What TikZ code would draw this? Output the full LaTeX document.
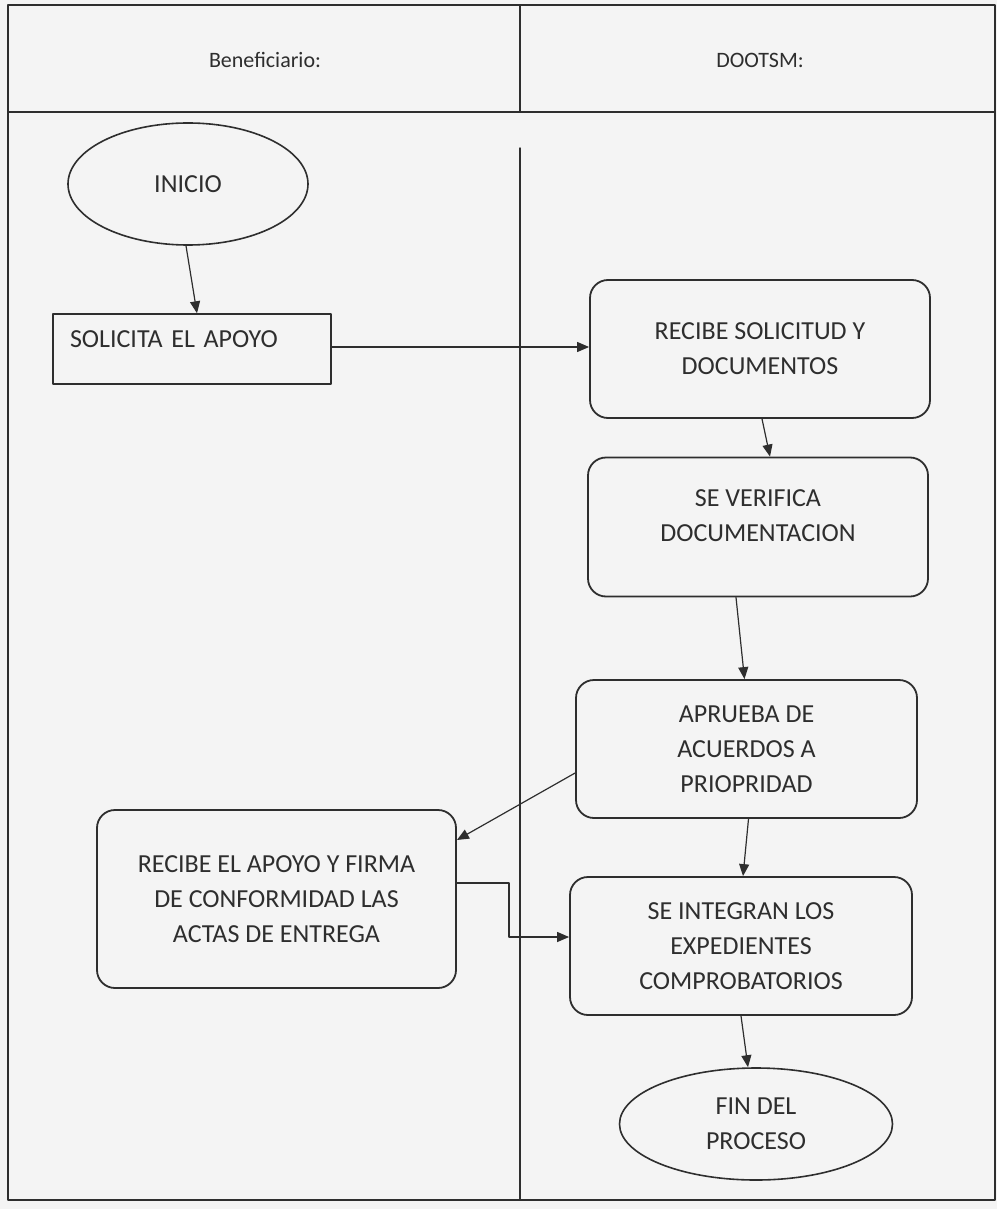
\documentclass[tikz,border=0pt]{standalone}
\usepackage{fontspec}
\setmainfont{Carlito}
\usepackage{tikz}
\usetikzlibrary{shapes.geometric,arrows.meta}
\usepackage{xcolor}

\definecolor{paper}{HTML}{F4F4F4}
\definecolor{ink}{HTML}{2E2E2E}

\tikzset{
  flujo/.style={draw=ink, line width=0.6pt, -{Triangle[length=6pt,width=5pt]}},
  paso/.style={draw=ink, line width=0.9pt, rounded corners=9pt, align=center,
    text=ink, font=\fontsize{13}{17.5}\selectfont},
  terminal/.style={draw=ink, line width=0.8pt, ellipse, align=center,
    text=ink, font=\fontsize{13}{17.5}\selectfont, inner sep=0pt},
}

\begin{document}
\begin{tikzpicture}[x=0.5pt, y=-0.5pt, line cap=round, line join=round]

% --- page and swimlanes ---
\fill[paper] (0,0) rectangle (997,1209);
\useasboundingbox (0,0) rectangle (997,1209);
\draw[ink, line width=1pt] (8,5) rectangle (995,1200);
\draw[ink, line width=0.9pt] (8,112) -- (995,112);
\draw[ink, line width=0.7pt] (520,5) -- (520,112);
\draw[ink, line width=0.7pt] (520,148) -- (520,1200);

\node[text=ink, font=\fontsize{11}{13}\selectfont] (lanebenef) at (265,60) {Beneficiario:};
\node[text=ink, font=\fontsize{11}{13}\selectfont] (lanedoot) at (760,60) {DOOTSM:};

% --- Beneficiario lane ---
\node[terminal, minimum width=120pt, minimum height=61pt] (inicio) at (188,184) {INICIO};

\node[draw=ink, line width=0.7pt, text=ink, font=\fontsize{13}{17.5}\selectfont,
  minimum width=139pt, minimum height=35pt, text width=122pt, inner xsep=8.5pt,
  align=left] (solicita) at (192,349) {SOLICITA EL APOYO\\[-8pt]\mbox{}};

\node[paso, minimum width=179.5pt, minimum height=89pt] (recibeapoyo) at (276.5,899)
  {RECIBE EL APOYO Y FIRMA\\DE CONFORMIDAD LAS\\ACTAS DE ENTREGA};

% --- DOOTSM lane ---
\node[paso, minimum width=170pt, minimum height=69pt] (recibesol) at (760,349)
  {RECIBE SOLICITUD Y\\DOCUMENTOS};

\node[paso, minimum width=170pt, minimum height=69.5pt] (verifica) at (758,527)
  {SE VERIFICA\\DOCUMENTACION\\[-6pt]\mbox{}};

\node[paso, minimum width=170.5pt, minimum height=69pt] (aprueba) at (746.5,749)
  {APRUEBA DE\\ACUERDOS A\\PRIOPRIDAD};

\node[paso, minimum width=171pt, minimum height=69pt] (integra) at (741,946)
  {SE INTEGRAN LOS\\EXPEDIENTES\\COMPROBATORIOS};

\node[terminal, minimum width=136.5pt, minimum height=56pt] (fin) at (756,1124)
  {FIN DEL\\PROCESO};

% --- connectors ---
\draw[flujo] ([xshift=-1pt]inicio.south) -- ([xshift=2.5pt]solicita.north);
\draw[flujo] ([yshift=1pt]solicita.east) -- ([yshift=1pt]recibesol.west);
\draw[flujo] ([xshift=1pt]recibesol.south) -- ([xshift=6pt]verifica.north);
\draw[flujo] ([xshift=-11pt]verifica.south) -- ([xshift=-1pt]aprueba.north);
\draw[flujo] ([yshift=-12pt]aprueba.west) -- ([yshift=29.5pt]recibeapoyo.east);
\draw[flujo] ([xshift=1pt]aprueba.south) -- ([xshift=1pt]integra.north);
\draw[flujo] ([yshift=8pt]recibeapoyo.east) -- ++(26pt,0) |- ([yshift=4.5pt]integra.west);
\draw[flujo] (integra.south) -- ([xshift=-4pt]fin.north);

\end{tikzpicture}
\end{document}
